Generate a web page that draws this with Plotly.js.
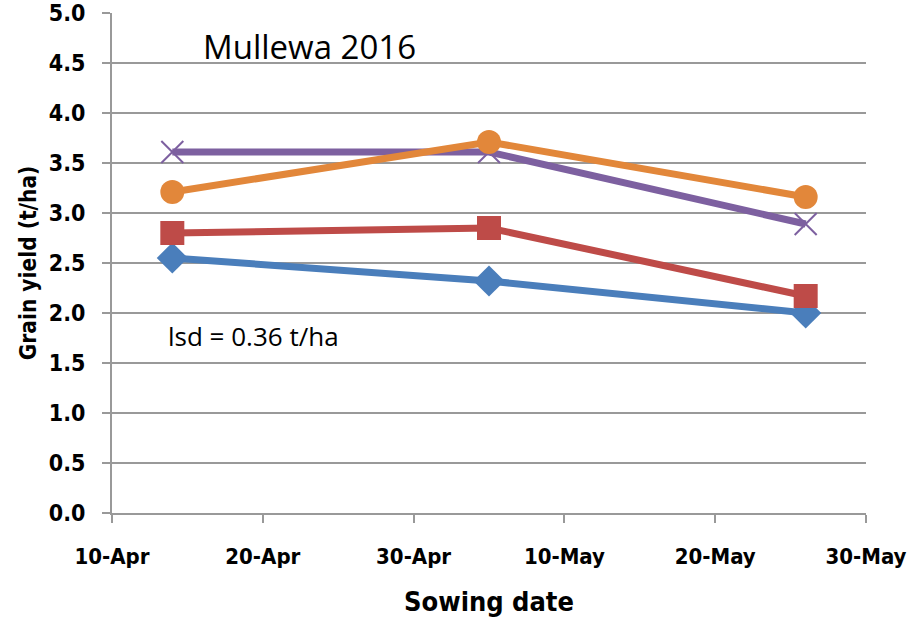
<!DOCTYPE html>
<html>
<head>
<meta charset="utf-8">
<script src="https://cdn.plot.ly/plotly-3.0.1.min.js"></script>
<style>html,body{margin:0;padding:0;background:#fff;}#chart{width:908px;height:624px;}</style>
</head>
<body>
<div id="chart"></div>
<script>
const sowingDates = ["2016-04-14", "2016-05-05", "2016-05-26"];
const seriesBlue = [2.55, 2.32, 2.00];
const seriesRed = [2.80, 2.85, 2.17];
const seriesPurple = [3.61, 3.61, 2.89];
const seriesOrange = [3.21, 3.71, 3.16];
const tickDates = ["2016-04-10", "2016-04-20", "2016-04-30", "2016-05-10", "2016-05-20", "2016-05-30"];
const tickLabels = ["10-Apr", "20-Apr", "30-Apr", "10-May", "20-May", "30-May"];
const yTicks = [0, 0.5, 1, 1.5, 2, 2.5, 3, 3.5, 4, 4.5, 5];

const fontFam = "'DejaVu Sans Condensed', 'Liberation Sans Narrow', 'Open Sans', sans-serif";
const lineW = 7;

const traces = [
  {x: sowingDates, y: seriesBlue, mode: 'lines+markers', line: {color: '#4A7EBB', width: lineW},
   marker: {symbol: 'diamond', size: 24, color: '#4A7EBB'}},
  {x: sowingDates, y: seriesRed, mode: 'lines+markers', line: {color: '#BE4B48', width: lineW},
   marker: {symbol: 'square', size: 24, color: '#BE4B48'}},
  {x: sowingDates, y: seriesPurple, mode: 'lines+markers', line: {color: '#7D60A0', width: lineW},
   marker: {symbol: 'x-thin-open', size: 22, color: '#7D60A0', line: {color: '#7D60A0', width: 2}}},
  {x: sowingDates, y: seriesOrange, mode: 'lines+markers', line: {color: '#E2873A', width: lineW},
   marker: {symbol: 'circle', size: 24, color: '#E2873A'}}
];

const layout = {
  width: 908, height: 624,
  margin: {l: 112, r: 42, t: 13, b: 111},
  paper_bgcolor: '#fff', plot_bgcolor: '#fff',
  showlegend: false,
  font: {family: fontFam, color: '#000'},
  xaxis: {
    type: 'date',
    range: ['2016-04-10', '2016-05-30'],
    tickvals: tickDates, ticktext: tickLabels,
    showgrid: false, zeroline: false,
    showline: true, linecolor: '#999', linewidth: 2,
    ticks: 'outside', ticklen: 8, tickcolor: '#999', tickwidth: 2,
    ticklabelstandoff: 15,
    tickfont: {family: fontFam, size: 22, color: '#000', weight: 'bold'},
    title: {text: '<b>Sowing date</b>', font: {family: fontFam, size: 27, color: '#000'}, standoff: 24}
  },
  yaxis: {
    range: [0, 5],
    tickvals: yTicks, ticktext: yTicks.map(v => v.toFixed(1)),
    showgrid: true, gridcolor: '#999', gridwidth: 2,
    zeroline: false,
    showline: true, linecolor: '#999', linewidth: 2,
    ticks: 'outside', ticklen: 8, tickcolor: '#999', tickwidth: 2,
    ticklabelstandoff: 12,
    tickfont: {family: fontFam, size: 23, color: '#000', weight: 'bold'},
    title: {text: '<b>Grain yield (t/ha)</b>', font: {family: fontFam, size: 22.5, color: '#000'}, standoff: 6}
  },
  annotations: [
    {text: 'Mullewa 2016', xref: 'paper', yref: 'paper', x: 0.118, y: 0.932, xanchor: 'left', yanchor: 'middle',
     showarrow: false, font: {family: "'Open Sans', sans-serif", size: 33, color: '#000'}},
    {text: 'lsd = 0.36 t/ha', xref: 'paper', yref: 'paper', x: 0.071, y: 0.355, xanchor: 'left', yanchor: 'middle',
     showarrow: false, font: {family: "'Open Sans', sans-serif", size: 26, color: '#000'}}
  ]
};

Plotly.newPlot('chart', traces, layout, {displayModeBar: false, staticPlot: true});
</script>
</body>
</html>
